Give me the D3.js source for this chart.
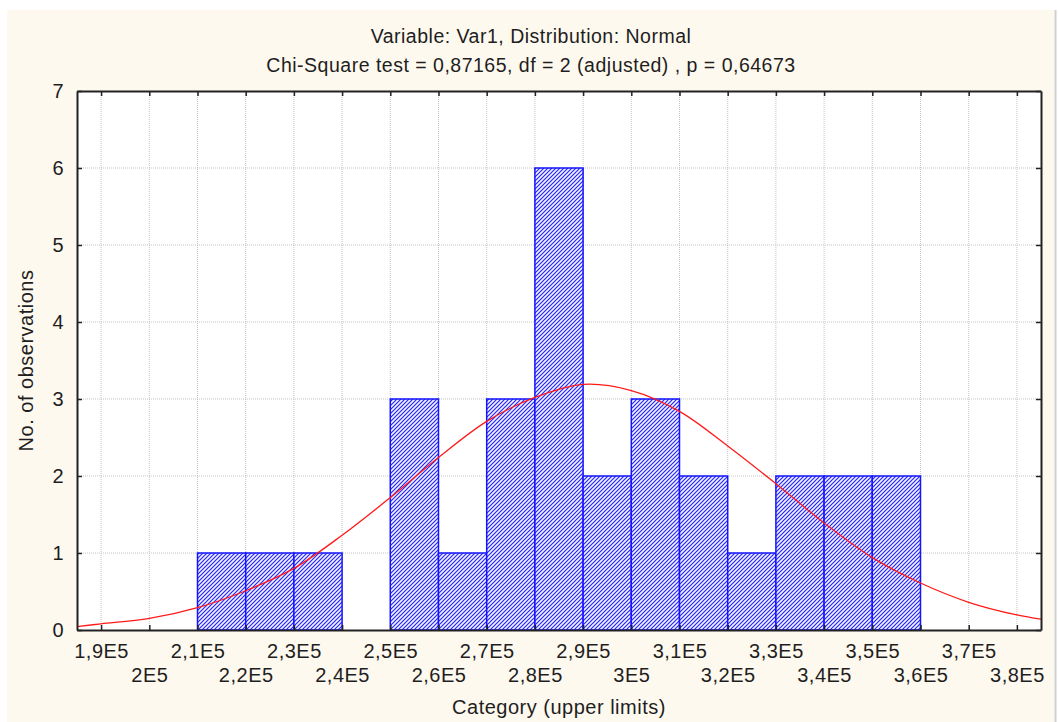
<!DOCTYPE html>
<html>
<head>
<meta charset="UTF-8">
<script src="https://cdn.jsdelivr.net/npm/d3@7"></script>
<style>
  body { margin: 0; background: #fff; }
  svg text { font-family: Arial, "Liberation Sans", sans-serif; fill: #1e1e1e; letter-spacing: 0.5px; }
</style>
</head>
<body>
<div id="chart"></div>
<script>
// histogram bins (lower limit of each class, width 10000) and counts
var binLower = [210000, 220000, 230000, 240000, 250000, 260000, 270000, 280000,
                290000, 300000, 310000, 320000, 330000, 340000, 350000];
var binCounts = [1, 1, 1, 0, 3, 1, 3, 6, 2, 3, 2, 1, 2, 2, 2];
var binWidth = 10000;

// fitted normal curve
var curveX = [185000, 190000, 200000, 210000, 220000, 230000, 240000, 250000, 260000, 270000,
              280000, 290000, 300000, 310000, 320000, 330000, 340000, 350000, 360000, 370000,
              380000, 385000];
var curveY = [0.045, 0.08, 0.15, 0.29, 0.51, 0.80, 1.23, 1.72, 2.24, 2.71,
              3.02, 3.19, 3.11, 2.84, 2.39, 1.90, 1.39, 0.94, 0.61, 0.36,
              0.195, 0.14];

var xTicks = [190000, 200000, 210000, 220000, 230000, 240000, 250000, 260000, 270000, 280000,
              290000, 300000, 310000, 320000, 330000, 340000, 350000, 360000, 370000, 380000];
var xTickLabels = ["1,9E5", "2E5", "2,1E5", "2,2E5", "2,3E5", "2,4E5", "2,5E5", "2,6E5", "2,7E5", "2,8E5",
                   "2,9E5", "3E5", "3,1E5", "3,2E5", "3,3E5", "3,4E5", "3,5E5", "3,6E5", "3,7E5", "3,8E5"];
var yTicks = [0, 1, 2, 3, 4, 5, 6, 7];

var titleLines = ["Variable: Var1, Distribution: Normal",
                  "Chi-Square test = 0,87165, df = 2 (adjusted) , p = 0,64673"];
var xTitle = "Category (upper limits)";
var yTitle = "No. of observations";

var width_total = 1058,
    height_total = 722,
    margin = {top: 91, right: 17, bottom: 92, left: 77},
    width = 1041 - margin.left,
    height = 630 - margin.top;

var svg = d3.select("#chart").append("svg")
    .attr("width", width_total)
    .attr("height", height_total);

// pale panel behind everything
svg.append("rect")
    .attr("x", 7).attr("y", 10)
    .attr("width", 1047).attr("height", 712)
    .attr("fill", "#fef9ef");
svg.append("line")
    .attr("x1", 1055.5).attr("x2", 1055.5)
    .attr("y1", 10).attr("y2", 722)
    .attr("stroke", "#cfcfcf").attr("stroke-width", 2);

// hatch pattern for bars
var defs = svg.append("defs");
var pat = defs.append("pattern")
    .attr("id", "hatch")
    .attr("patternUnits", "userSpaceOnUse")
    .attr("width", 4).attr("height", 4);
pat.append("rect")
    .attr("width", 4).attr("height", 4)
    .attr("fill", "#f4f4ff");
pat.append("path")
    .attr("d", "M-1,1 l2,-2 M0,4 l4,-4 M3,5 l2,-2")
    .attr("stroke", "#2424ff")
    .attr("stroke-width", 1.2);

var g = svg.append("g")
    .attr("transform", "translate(" + margin.left + "," + margin.top + ")");

var x = d3.scaleLinear().domain([185000, 385000]).range([0, width]);
var y = d3.scaleLinear().domain([0, 7]).range([height, 0]);

g.append("rect")
    .attr("width", width).attr("height", height)
    .attr("fill", "#fff");

// grid
g.append("g").selectAll("line")
    .data(xTicks)
    .enter().append("line")
      .attr("x1", d => x(d)).attr("x2", d => x(d))
      .attr("y1", 0).attr("y2", height)
      .attr("stroke", "#c4c4c4")
      .attr("stroke-dasharray", "1,1");
g.append("g").selectAll("line")
    .data(yTicks.slice(1, -1))
    .enter().append("line")
      .attr("x1", 0).attr("x2", width)
      .attr("y1", d => y(d)).attr("y2", d => y(d))
      .attr("stroke", "#c4c4c4")
      .attr("stroke-dasharray", "1,1");

// bars
g.append("g").selectAll("rect")
    .data(binLower.map((d, i) => ({lo: d, n: binCounts[i]})).filter(d => d.n > 0))
    .enter().append("rect")
      .attr("x", d => x(d.lo))
      .attr("y", d => y(d.n))
      .attr("width", d => x(d.lo + binWidth) - x(d.lo))
      .attr("height", d => y(0) - y(d.n))
      .attr("fill", "url(#hatch)")
      .attr("stroke", "#1414ff")
      .attr("stroke-width", 1.5);

// normal curve
var line = d3.line()
    .x((d, i) => x(curveX[i]))
    .y(d => y(d))
    .curve(d3.curveCatmullRom);
g.append("path")
    .datum(curveY)
    .attr("d", line)
    .attr("fill", "none")
    .attr("stroke", "#ff1a1a")
    .attr("stroke-width", 1.3);

// axes, ticks pointing inward on all four sides
var xb = g.append("g")
    .attr("transform", "translate(0," + height + ")")
    .call(d3.axisBottom(x).tickValues(xTicks).tickSizeInner(-5).tickSizeOuter(0)
          .tickFormat((d, i) => xTickLabels[i]));
xb.selectAll("text")
    .attr("dy", null)
    .attr("y", (d, i) => i % 2 == 0 ? 28 : 51.5)
    .attr("font-size", 20);

var yl = g.append("g")
    .call(d3.axisLeft(y).tickValues(yTicks).tickSizeInner(-5).tickSizeOuter(0).tickPadding(13)
          .tickFormat(d3.format("d")));
yl.selectAll("text").attr("font-size", 20);

g.append("g")
    .call(d3.axisTop(x).tickValues(xTicks).tickSizeInner(-5).tickSizeOuter(0).tickFormat(""));
g.append("g")
    .attr("transform", "translate(" + width + ",0)")
    .call(d3.axisRight(y).tickValues(yTicks).tickSizeInner(-5).tickSizeOuter(0).tickFormat(""));

g.selectAll(".domain").attr("stroke", "#222").attr("stroke-width", 2);
g.selectAll(".tick line").attr("stroke", "#222").attr("stroke-width", 1.5);
g.selectAll(".tick text").attr("fill", "#1e1e1e");

// titles
svg.selectAll(".title")
    .data(titleLines)
    .enter().append("text")
      .attr("class", "title")
      .attr("x", 531)
      .attr("y", (d, i) => 43 + i * 28.5)
      .attr("text-anchor", "middle")
      .attr("font-size", 19.5)
      .text(d => d);

svg.append("text")
    .attr("x", margin.left + width / 2)
    .attr("y", 714)
    .attr("text-anchor", "middle")
    .attr("font-size", 20)
    .text(xTitle);

svg.append("text")
    .attr("transform", "translate(33," + (margin.top + height / 2) + ") rotate(-90)")
    .attr("text-anchor", "middle")
    .attr("font-size", 20)
    .text(yTitle);
</script>
</body>
</html>
